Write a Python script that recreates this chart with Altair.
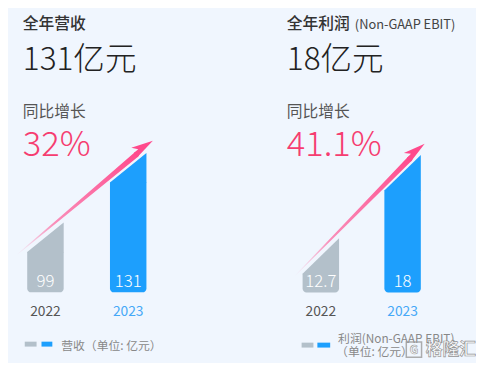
import math
import altair as alt
import pandas as pd

# ---- data -------------------------------------------------------------
YEARS = ["2022", "2023"]
REVENUE = [99, 131]
PROFIT = [12.7, 18]
REV_LABELS = ["99", "131"]
PROFIT_LABELS = ["12.7", "18"]
TITLES = ["全年营收", "全年利润"]
TITLE_NOTE = "(Non-GAAP EBIT)"
TOTALS = ["131亿元", "18亿元"]
GROWTH_LABEL = "同比增长"
GROWTH = ["32%", "41.1%"]
LEGEND_LINES = [["营收（单位: 亿元）"], ["利润(Non-GAAP EBIT)", "（单位: 亿元）"]]
WATERMARK = "格隆汇"

# ---- style ------------------------------------------------------------
BG = "#f0f6fe"
GRAY = "#b3c0ca"
BLUE = "#1d9ffd"
PINK = "#f63d70"
ARROW = "#ff4a8c"
YEAR_COLORS = ["#555555", "#45a8f7"]
FONT = "Noto Sans CJK SC"
W, H = 234, 352
BAR_HALF_PX = 18.5
HEAD_BACK_PX = 22
HEAD_PATH = "M0,0 L0.28,2.3 L-0.28,2.3 L-0.28,1.7 L-0.85,2.15 Z"


def text_layer(t, x, y, size, color, weight="normal", align="left", **kw):
    return alt.Chart(pd.DataFrame({"t": [t]})).mark_text(
        font=FONT, fontSize=size, color=color, fontWeight=weight,
        align=align, baseline="middle", **kw
    ).encode(x=alt.value(x), y=alt.value(y), text="t:N")


def rect_layer(x1, x2, y1, y2, color):
    return alt.Chart(pd.DataFrame({"a": [0]})).mark_rect(color=color).encode(
        x=alt.value(x1), x2=alt.value(x2), y=alt.value(y1), y2=alt.value(y2)
    )


def panel(values, labels, idx, c0, step, ydom, base, slant_px, offset_px,
          tail_x, head_x, tx, watermark=False):
    ppu = H / (ydom[1] - ydom[0])
    s = slant_px / ppu
    hw = BAR_HALF_PX / step
    xs = alt.Scale(domain=[-c0 / step, (W - c0) / step], nice=False, zero=False)
    ys = alt.Scale(domain=ydom, nice=False, zero=False)
    X = lambda f: alt.X(f, type="quantitative", scale=xs, axis=None)
    Y = lambda f: alt.Y(f, type="quantitative", scale=ys, axis=None)

    bar_rows = []
    tri_rows = []
    for i, (yr, v, lab) in enumerate(zip(YEARS, values, labels)):
        col = GRAY if i == 0 else BLUE
        bar_rows.append(dict(year=yr, x=i - hw, x2=i + hw, xc=i, base=base,
                             low=v - s, col=col, lab=lab, ycol=YEAR_COLORS[i]))
        tri_rows.append(dict(year=yr, x=i - hw, y=v - s, y2=v - s - 0.6 / ppu, col=col))
        tri_rows.append(dict(year=yr, x=i + hw, y=v + s, y2=v - s - 0.6 / ppu, col=col))
    bars = pd.DataFrame(bar_rows)
    tris = pd.DataFrame(tri_rows)

    rects = alt.Chart(bars).mark_rect(
        cornerRadiusBottomLeft=4, cornerRadiusBottomRight=4
    ).encode(x=X("x"), x2="x2", y=Y("base"), y2="low",
             color=alt.Color("col:N", scale=None))
    tops = alt.Chart(tris).mark_area(opacity=1).encode(
        x=X("x"), y=Y("y"), y2="y2",
        color=alt.Color("col:N", scale=None), detail="year:N")
    vals = alt.Chart(bars).mark_text(
        font=FONT, fontSize=17, fontWeight=300, color="white",
        baseline="middle", dy=-10
    ).encode(x=X("xc"), y=Y("base"), text="lab:N")
    years = alt.Chart(bars).mark_text(
        font=FONT, fontSize=14, baseline="middle", dy=20
    ).encode(x=X("xc"), y=Y("base"), text="year:N",
             color=alt.Color("ycol:N", scale=None))

    # arrow: parallel to the line through the bars' upper corners
    v0, v1 = values
    off = offset_px / ppu
    yline = lambda x: (v0 + s) + (v1 - v0) * (x - hw) + off
    dx_px = (head_x - tail_x) * step
    dy_px = (yline(head_x) - yline(tail_x)) * ppu
    ln = math.hypot(dx_px, dy_px)
    ang = math.degrees(math.atan2(dx_px, dy_px))
    xe = head_x - HEAD_BACK_PX * dx_px / ln / step
    trail_df = pd.DataFrame({"x": [tail_x, xe], "y": [yline(tail_x), yline(xe)],
                             "w": [0.4, 5.6]})
    grad = alt.LinearGradient(
        gradient="linear",
        stops=[alt.GradientStop(offset=0, color="rgba(255,74,140,0)"),
               alt.GradientStop(offset=0.3, color="rgba(255,74,140,0.6)"),
               alt.GradientStop(offset=1, color=ARROW)],
        x1=0, y1=1, x2=1, y2=0)
    trail = alt.Chart(trail_df).mark_trail(color=grad).encode(
        x=X("x"), y=Y("y"), size=alt.Size("w:Q", scale=None, legend=None))
    head = alt.Chart(pd.DataFrame({"x": [head_x], "y": [yline(head_x)]})).mark_point(
        shape=HEAD_PATH, filled=True, color=ARROW, opacity=1, size=400,
        angle=ang, strokeWidth=0
    ).encode(x=X("x"), y=Y("y"))

    layers = [rects, tops, vals, years, trail, head,
              text_layer(TITLES[idx], tx, 14, 16, "#333333", 500),
              text_layer(TOTALS[idx], tx, 50, 32, "#222222", 300),
              text_layer(GROWTH_LABEL, tx, 103, 16, "#555555"),
              text_layer(GROWTH[idx], tx, 137, 35, PINK, 300)]
    if idx == 1:
        layers.append(text_layer(TITLE_NOTE, tx + 69, 15, 13, "#444444"))
        layers += [rect_layer(64, 76, 337, 342, GRAY),
                   rect_layer(80, 93, 337, 342, BLUE),
                   text_layer(LEGEND_LINES[1][0], 101, 333, 12, "#888888"),
                   text_layer(LEGEND_LINES[1][1], 99, 347, 12, "#888888")]
    else:
        layers += [rect_layer(17, 29, 336, 341, GRAY),
                   rect_layer(34, 45, 336, 341, BLUE),
                   text_layer(LEGEND_LINES[0][0], 54, 340, 12, "#888888")]
    if watermark:
        layers.append(alt.Chart(pd.DataFrame({"a": [0]})).mark_point(
            shape="square", filled=False, stroke="#9a9a9a", strokeWidth=1.5,
            size=240, opacity=0.8).encode(x=alt.value(178), y=alt.value(344)))
        layers.append(text_layer("G", 178, 345, 12, "white", "bold", align="center",
                                 stroke="#8a8a8a", strokeWidth=0.6, opacity=0.9))
        layers.append(text_layer(WATERMARK, 190, 345, 17, "white", "bold",
                                 stroke="#8a8a8a", strokeWidth=0.7, opacity=0.9))
    return alt.layer(*layers).properties(width=W, height=H)


left = panel(REVENUE, REV_LABELS, 0, c0=38, step=84, ydom=[43.6, 203.4],
             base=73.6, slant_px=15, offset_px=7, tail_x=-0.345, head_x=1.298,
             tx=15)
right = panel(PROFIT, PROFIT_LABELS, 1, c0=83.5, step=83, ydom=[6.24, 28.32],
              base=10.38, slant_px=18, offset_px=7.5, tail_x=-0.32, head_x=1.27,
              tx=49, watermark=True)

chart = alt.hconcat(left, right, spacing=0, padding=0).configure(
    background=BG).configure_view(stroke=None)

chart.save("out.html", embed_options={"renderer": "svg", "actions": False})
